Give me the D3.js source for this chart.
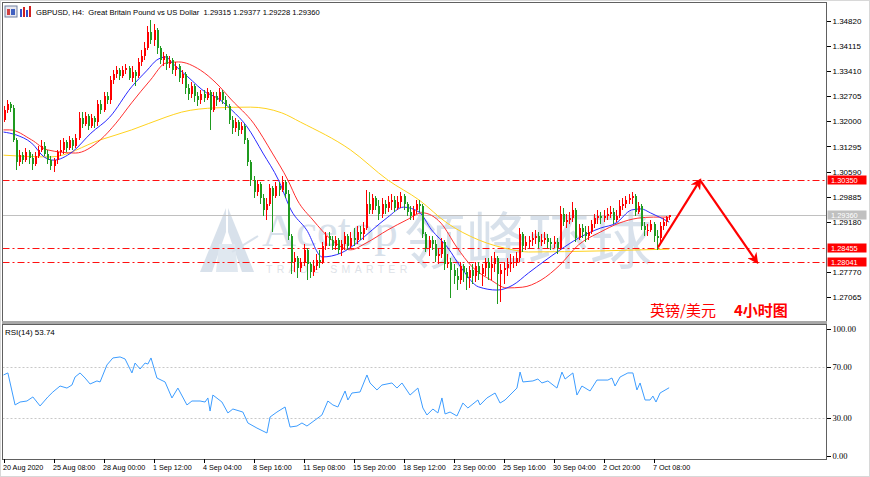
<!DOCTYPE html>
<html lang="en">
<head>
<meta charset="UTF-8">
<title>GBPUSD, H4</title>
<script src="https://d3js.org/d3.v7.min.js"></script>
<style>
  body, html { margin: 0; padding: 0; background: #fff; overflow: hidden; }
  svg { display: block; font-family: 'Liberation Sans', Arial, sans-serif; }
  .ax text { font-size: 8px; fill: #000; }
  .ax line { stroke: #000; shape-rendering: crispEdges; }
  .ax path { display: none; }
  .timeax text { font-size: 7.2px; }
  .rsiax text { font-family: 'Liberation Serif', serif; font-size: 8.5px; }
</style>
</head>
<body>
<svg id="chart" width="870" height="477"></svg>
<script>
// ---- data ----
const firstOpen = 1.3204;
const closes = [
  1.3232,1.3249,1.3238,1.3148,1.3086,1.3105,1.3091,1.3114,1.3097,1.3080,
  1.3103,1.3120,1.3131,1.3108,1.3091,1.3075,1.3091,1.3114,1.3120,1.3142,
  1.3125,1.3148,1.3131,1.3153,1.3209,1.3193,1.3215,1.3187,1.3209,1.3198,
  1.3249,1.3232,1.3271,1.3260,1.3316,1.3333,1.3344,1.3327,1.3344,1.3350,
  1.3322,1.3339,1.3327,1.3367,1.3384,1.3406,1.3451,1.3429,1.3457,1.3406,
  1.3372,1.3384,1.3361,1.3372,1.3344,1.3356,1.3322,1.3333,1.3294,1.3277,
  1.3299,1.3271,1.3260,1.3277,1.3266,1.3282,1.3232,1.3271,1.3260,1.3282,
  1.3260,1.3243,1.3204,1.3181,1.3198,1.3176,1.3187,1.3148,1.3086,1.3035,
  1.3001,1.3024,1.2985,1.2951,1.2968,1.3013,1.2990,1.3018,1.3007,1.3030,
  1.2996,1.2878,1.2805,1.2816,1.2788,1.2805,1.2839,1.2799,1.2777,1.2794,
  1.2810,1.2805,1.2850,1.2878,1.2867,1.2850,1.2867,1.2839,1.2855,1.2878,
  1.2850,1.2872,1.2867,1.2889,1.2883,1.2900,1.2968,1.2951,1.2985,1.2962,
  1.2940,1.2968,1.2957,1.2973,1.2979,1.2957,1.2973,1.2990,1.2968,1.2945,
  1.2934,1.2951,1.2968,1.2962,1.2883,1.2844,1.2867,1.2855,1.2822,1.2827,
  1.2861,1.2799,1.2805,1.2782,1.2765,1.2754,1.2794,1.2777,1.2760,1.2782,
  1.2765,1.2794,1.2771,1.2788,1.2805,1.2788,1.2799,1.2816,1.2771,1.2782,
  1.2788,1.2799,1.2805,1.2805,1.2816,1.2883,1.2850,1.2861,1.2867,1.2872,
  1.2878,1.2861,1.2867,1.2872,1.2861,1.2855,1.2861,1.2844,1.2940,1.2917,
  1.2923,1.2928,1.2951,1.2872,1.2900,1.2889,1.2878,1.2889,1.2912,1.2928,
  1.2934,1.2928,1.2934,1.2940,1.2945,1.2923,1.2934,1.2962,1.2968,1.2979,
  1.2985,1.2990,1.2945,1.2962,1.2906,1.2895,1.2895,1.2912,1.2878,1.2872,
  1.2906,1.2917,1.29315,1.29360
];
const highs = [
  1.3243,1.3260,1.3254,1.3246,1.3153,1.3120,1.3114,1.3125,1.3120,1.3108,
  1.3114,1.3131,1.3148,1.3142,1.3120,1.3103,1.3097,1.3120,1.3148,1.3153,
  1.3148,1.3159,1.3153,1.3164,1.3226,1.3226,1.3226,1.3221,1.3221,1.3215,
  1.3260,1.3260,1.3282,1.3282,1.3327,1.3344,1.3356,1.3350,1.3356,1.3361,
  1.3356,1.3356,1.3344,1.3378,1.3401,1.3423,1.3468,1.3485,1.3474,1.3462,
  1.3412,1.3395,1.3389,1.3384,1.3378,1.3367,1.3361,1.3344,1.3339,1.3305,
  1.3311,1.3305,1.3282,1.3288,1.3288,1.3294,1.3288,1.3282,1.3282,1.3294,
  1.3288,1.3271,1.3249,1.3215,1.3209,1.3204,1.3198,1.3193,1.3153,1.3091,
  1.3046,1.3035,1.3030,1.2996,1.2985,1.3024,1.3018,1.3030,1.3030,1.3046,
  1.3035,1.3007,1.2883,1.2833,1.2822,1.2816,1.2855,1.2844,1.2805,1.2810,
  1.2827,1.2839,1.2861,1.2889,1.2889,1.2878,1.2878,1.2872,1.2867,1.2889,
  1.2883,1.2889,1.2900,1.2906,1.2906,1.2917,1.3007,1.3001,1.2996,1.2990,
  1.2979,1.2985,1.2979,1.2990,1.2996,1.2990,1.2990,1.3001,1.2996,1.2973,
  1.2962,1.2962,1.2979,1.2979,1.2968,1.2889,1.2878,1.2878,1.2867,1.2844,
  1.2872,1.2867,1.2827,1.2816,1.2799,1.2788,1.2805,1.2799,1.2788,1.2794,
  1.2799,1.2805,1.2805,1.2799,1.2816,1.2816,1.2822,1.2833,1.2822,1.2799,
  1.2805,1.2816,1.2827,1.2822,1.2833,1.2900,1.2889,1.2878,1.2878,1.2889,
  1.2895,1.2889,1.2883,1.2889,1.2883,1.2872,1.2878,1.2872,1.2962,1.2957,
  1.2940,1.2945,1.2973,1.2957,1.2912,1.2912,1.2906,1.2906,1.2923,1.2940,
  1.2951,1.2945,1.2951,1.2957,1.2962,1.2957,1.2951,1.2979,1.2985,1.2990,
  1.2996,1.3001,1.2996,1.2973,1.2968,1.2917,1.2912,1.2923,1.2917,1.2895,
  1.2917,1.2928,1.2934,1.29377
];
const lows = [
  1.3198,1.3224,1.3226,1.3142,1.3063,1.3075,1.3080,1.3086,1.3080,1.3063,
  1.3075,1.3097,1.3114,1.3103,1.3080,1.3063,1.3058,1.3080,1.3103,1.3108,
  1.3114,1.3120,1.3120,1.3125,1.3148,1.3181,1.3187,1.3176,1.3181,1.3181,
  1.3187,1.3221,1.3226,1.3249,1.3249,1.3305,1.3322,1.3316,1.3322,1.3333,
  1.3316,1.3311,1.3299,1.3322,1.3356,1.3372,1.3401,1.3417,1.3412,1.3389,
  1.3361,1.3356,1.3344,1.3350,1.3333,1.3327,1.3311,1.3305,1.3277,1.3260,
  1.3266,1.3254,1.3243,1.3249,1.3254,1.3260,1.3176,1.3226,1.3243,1.3254,
  1.3249,1.3232,1.3193,1.3164,1.3170,1.3159,1.3164,1.3136,1.3075,1.3018,
  1.2985,1.2990,1.2968,1.2934,1.2923,1.2962,1.2889,1.2985,1.2990,1.3001,
  1.2985,1.2867,1.2771,1.2777,1.2760,1.2777,1.2794,1.2754,1.2760,1.2765,
  1.2782,1.2788,1.2799,1.2839,1.2850,1.2839,1.2839,1.2827,1.2822,1.2839,
  1.2839,1.2844,1.2850,1.2855,1.2867,1.2867,1.2895,1.2940,1.2940,1.2951,
  1.2923,1.2928,1.2940,1.2945,1.2951,1.2945,1.2951,1.2957,1.2951,1.2934,
  1.2923,1.2923,1.2940,1.2945,1.2872,1.2833,1.2822,1.2839,1.2805,1.2799,
  1.2816,1.2782,1.2788,1.2704,1.2743,1.2726,1.2743,1.2749,1.2726,1.2732,
  1.2743,1.2749,1.2754,1.2737,1.2765,1.2754,1.2754,1.2777,1.2687,1.2692,
  1.2743,1.2765,1.2777,1.2788,1.2794,1.2805,1.2833,1.2839,1.2844,1.2850,
  1.2855,1.2844,1.2850,1.2855,1.2844,1.2839,1.2844,1.2827,1.2839,1.2906,
  1.2900,1.2912,1.2917,1.2861,1.2867,1.2872,1.2861,1.2867,1.2883,1.2900,
  1.2912,1.2912,1.2917,1.2923,1.2928,1.2912,1.2917,1.2928,1.2951,1.2957,
  1.2968,1.2968,1.2934,1.2940,1.2895,1.2878,1.2878,1.2889,1.2861,1.2839,
  1.2861,1.2895,1.2906,1.29228
];

// moving averages: [bar, price]
const maFast = [[0,1.3170],[4,1.3162],[9,1.3139],[13,1.3100],[16,1.3091],[22,1.3114],[28,1.3167],[34,1.3212],[41,1.3297],[46,1.3344],[49,1.3372],[52,1.3381],[54,1.3364],[59,1.3325],[65,1.3280],[68,1.3268],[73,1.3232],[78,1.3184],[83,1.3111],[88,1.3035],[92,1.2951],[97,1.2895],[102,1.2819],[108,1.2830],[113,1.2858],[118,1.2895],[123,1.2931],[128,1.2959],[133,1.2945],[137,1.2895],[142,1.2847],[147,1.2782],[152,1.2735],[158,1.2726],[163,1.2740],[168,1.2774],[178,1.2838],[184,1.2872],[191,1.2900],[196,1.2914],[201,1.2951],[204,1.2954],[207,1.2943],[213,1.2917]];
const maMid = [[0,1.3176],[2,1.3176],[9,1.3148],[14,1.3120],[23,1.3111],[31,1.3148],[36,1.3195],[41,1.3252],[47,1.3316],[52,1.3364],[56,1.3367],[63,1.3344],[68,1.3308],[73,1.3260],[80,1.3195],[86,1.3111],[91,1.3035],[94,1.2979],[99,1.2923],[105,1.2867],[111,1.2839],[116,1.2858],[123,1.2895],[129,1.2923],[134,1.2943],[140,1.2914],[145,1.2847],[150,1.2791],[156,1.2754],[161,1.2732],[166,1.2734],[172,1.2754],[178,1.2796],[184,1.2853],[191,1.2889],[197,1.2914],[203,1.2928],[208,1.2931],[213,1.2931]];
const maSlow = [[0,1.3105],[15,1.3100],[31,1.3148],[41,1.3176],[52,1.3212],[57,1.3226],[68,1.3238],[79,1.3240],[89,1.3224],[95,1.3198],[111,1.3120],[123,1.3035],[133,1.2979],[142,1.2914],[152,1.2867],[163,1.2839],[168,1.2833],[191,1.2836],[213,1.2841]];

// RSI(14): [bar, value]
const rsi = [[0,63.8],[1.4,65.4],[3.7,40.2],[5.3,42.5],[7.5,43.3],[9.4,46.5],[11.7,39.4],[14.2,46.5],[15.8,50.4],[18.1,55.1],[20.3,53.5],[21.9,55.9],[22.9,62.2],[24.5,65.4],[26.1,61.4],[27.7,56.7],[29.9,59.1],[30.9,58.3],[33.1,71.7],[35,77.2],[37.3,78],[38.9,76.4],[41.1,65.4],[42.1,73.2],[43.7,68.5],[45.3,73.2],[46.2,72.4],[47.2,77.2],[49.1,61.4],[51.7,58.3],[53.9,45.7],[55.8,53.5],[58.7,40.2],[60.3,43.3],[62.9,43.3],[64.5,42.5],[65.4,45.7],[66.1,35.4],[67,48],[69.9,42.5],[71.8,33.9],[73.4,37],[76.6,34.6],[78.2,26],[81.1,22],[84.3,18.1],[85.3,30.7],[87.5,34.6],[90.1,38.6],[91.7,22.8],[93.9,23.6],[95.5,26],[97.1,23.6],[99.7,28.3],[101.9,32.3],[103.8,43.3],[105.4,40.2],[107,38.6],[109.3,51.2],[110.2,44.1],[111.5,49.6],[114.1,50.4],[116.3,63.8],[117.3,57.5],[119.5,52],[121.1,55.9],[124.3,57.5],[125.9,53.5],[127.5,57.5],[130.1,48],[132.6,53.5],[134.2,37.8],[135.5,32.3],[137.4,37],[139,33.9],[140.3,45.7],[141.3,33.1],[142.9,34.6],[145.1,31.5],[147,41.7],[148.6,37.8],[151.8,44.1],[152.5,40.2],[154.7,45.7],[157.3,49.6],[158.9,41.7],[160.5,44.1],[164.3,53.5],[165.3,66.1],[166.2,58.3],[169.4,59.1],[171,60.6],[172.3,57.5],[174.2,59.1],[177.1,53.5],[178.7,66.1],[179.7,60.6],[182.2,65.4],[183.5,48],[185.1,55.1],[187.7,51.2],[189.9,59.8],[193.4,59.8],[194.7,61.4],[195.7,55.1],[197.3,62.2],[199.8,65.4],[201.4,65.4],[202.7,52],[203.7,57.5],[205.3,44.1],[206.9,44.1],[207.8,47.2],[208.8,42.5],[210.1,49.6],[213,53.74]];

const priceTicks = [1.34820,1.34115,1.33410,1.32705,1.32000,1.31295,1.30590,1.29885,1.29180,1.27770,1.27065];
const levels = [1.30350, 1.28455, 1.28041];
const lastPrice = 1.29360;
const rsiTicks = [100, 70, 30, 0];
const rsiLevels = [70, 30];
const timeBars = [0,16,32,48,64,80,96,112,128,144,160,176,192,208];
const timeLabels = ["20 Aug 2020","25 Aug 08:00","28 Aug 00:00","1 Sep 12:00","4 Sep 04:00","8 Sep 16:00","11 Sep 08:00","15 Sep 20:00","18 Sep 12:00","23 Sep 00:00","25 Sep 16:00","30 Sep 04:00","2 Oct 20:00","7 Oct 08:00"];
// forecast arrow: [bar, price]
const arrowPath = [[209.4, 1.28455], [222.9, 1.30350], [241.1, 1.28041]];

// ---- layout ----
const svg = d3.select("#chart");
const L = 2.5, R = 826.5, T = 2.5, MB = 321, RT = 324, RB = 459;

const x = d3.scaleLinear().domain([0, 208]).range([3.5, 653.5]);
const y = d3.scaleLinear().domain([1.27065, 1.34820]).range([297, 21]);
const yr = d3.scaleLinear().domain([0, 100]).range([456, 329]);

const UP = "#ff0000", DOWN = "#1f9a1f";

svg.append("rect").attr("width", 870).attr("height", 477).attr("fill", "#fff");

const defs = svg.append("defs");
defs.append("clipPath").attr("id", "clipMain").append("rect")
  .attr("x", L).attr("y", T).attr("width", R - L).attr("height", MB - T);
defs.append("clipPath").attr("id", "clipRsi").append("rect")
  .attr("x", L).attr("y", RT).attr("width", R - L).attr("height", RB - RT);
defs.append("marker").attr("id", "arrowHead")
  .attr("viewBox", "0 0 10 10").attr("refX", 8).attr("refY", 5)
  .attr("markerWidth", 5).attr("markerHeight", 5).attr("orient", "auto")
  .attr("markerUnits", "strokeWidth")
  .append("path").attr("d", "M0,0 L10,5 L0,10 L3,5 Z").attr("fill", "#ff0000");

// watermark
const wm = svg.append("g").attr("opacity", 0.55);
wm.append("path").attr("d", "M226,208 L200,272 L212,272 L226,232 Z").attr("fill", "#b9cadb");
wm.append("path").attr("d", "M228,208 L254,272 L242,272 L228,232 Z").attr("fill", "#b9cadb");
wm.append("path").attr("d", "M219,244 L235,244 L238,272 L216,272 Z").attr("fill", "#c8d6e4");
wm.append("line").attr("x1", 232).attr("y1", 252).attr("x2", 258).attr("y2", 236)
  .attr("stroke", "#b9cadb").attr("stroke-width", 2);
wm.append("text").attr("x", 262).attr("y", 246)
  .style("font-family", "'Liberation Serif', serif").style("font-size", "47px")
  .attr("fill", "#b9cadb").text("Acetop");
wm.append("text").attr("x", 266).attr("y", 273)
  .style("font-size", "10.5px").style("letter-spacing", "4.3px")
  .attr("fill", "#c3ccd6").text("TRADE SMARTER");
wm.append("text").attr("x", 404).attr("y", 264)
  .style("font-family", "'Noto Sans CJK SC', sans-serif").style("font-size", "62px")
  .attr("fill", "#b9cadb").text("领峰环球");

// main panel
const main = svg.append("g").attr("clip-path", "url(#clipMain)");

main.append("line").attr("x1", L).attr("x2", R)
  .attr("y1", Math.round(y(lastPrice)) + 0.5).attr("y2", Math.round(y(lastPrice)) + 0.5)
  .attr("stroke", "#c0c0c0");

main.selectAll(".lvl").data(levels).enter().append("line")
  .attr("x1", L).attr("x2", R)
  .attr("y1", d => Math.round(y(d)) + 0.5).attr("y2", d => Math.round(y(d)) + 0.5)
  .attr("stroke", "#ff1010").attr("stroke-dasharray", "7,3,2,3");

const maLine = d3.line().x(d => x(d[0])).y(d => y(d[1])).curve(d3.curveMonotoneX);
[[maSlow, "#ffd21f"], [maMid, "#ff3030"], [maFast, "#2a2aff"]].forEach(([data, col]) => {
  main.append("path").datum(data).attr("d", maLine)
    .attr("fill", "none").attr("stroke", col).attr("stroke-width", 1);
});

const bars = closes.map((c, i) => ({
  i, o: i === 0 ? firstOpen : closes[i - 1], h: highs[i], l: lows[i], c
}));
const cg = main.append("g").style("shape-rendering", "crispEdges");
cg.selectAll(".wick").data(bars).enter().append("line")
  .attr("x1", d => Math.round(x(d.i)) + 0.5).attr("x2", d => Math.round(x(d.i)) + 0.5)
  .attr("y1", d => y(d.h)).attr("y2", d => y(d.l))
  .attr("stroke", d => d.c >= d.o ? UP : DOWN);
cg.selectAll(".body").data(bars).enter().append("rect")
  .attr("x", d => Math.round(x(d.i)) - 0.5)
  .attr("width", 2)
  .attr("y", d => Math.min(y(d.o), y(d.c)))
  .attr("height", d => Math.max(1, Math.abs(y(d.o) - y(d.c))))
  .attr("fill", d => d.c >= d.o ? UP : DOWN);

// forecast arrows
for (let k = 0; k < arrowPath.length - 1; k++) {
  const a = arrowPath[k], b = arrowPath[k + 1];
  svg.append("line")
    .attr("x1", x(a[0])).attr("y1", y(a[1])).attr("x2", x(b[0])).attr("y2", y(b[1]))
    .attr("stroke", "#ff0000").attr("stroke-width", 2.2)
    .attr("marker-end", "url(#arrowHead)");
}

svg.append("text").attr("x", 650).attr("y", 316)
  .style("font-family", "'Noto Sans CJK SC', sans-serif").style("font-size", "15px")
  .attr("fill", "#ff0000").text("英镑/美元");
svg.append("text").attr("x", 734).attr("y", 316)
  .style("font-family", "'Noto Sans CJK SC', sans-serif").style("font-size", "15px")
  .style("font-weight", "bold").attr("fill", "#ff0000").text("4小时图");

// RSI panel
const rp = svg.append("g").attr("clip-path", "url(#clipRsi)");
rp.selectAll(".rl").data(rsiLevels).enter().append("line")
  .attr("x1", L).attr("x2", R)
  .attr("y1", d => Math.round(yr(d)) + 0.5).attr("y2", d => Math.round(yr(d)) + 0.5)
  .attr("stroke", "#c8c8c8").attr("stroke-dasharray", "2,2");
rp.append("path").datum(rsi)
  .attr("d", d3.line().x(d => x(d[0])).y(d => yr(d[1])))
  .attr("fill", "none").attr("stroke", "#3c9cff").attr("stroke-width", 1);
svg.append("text").attr("x", 5).attr("y", 335).style("font-size", "8px")
  .text("RSI(14) " + rsi[rsi.length - 1][1].toFixed(2));

// frames
const frame = svg.append("g").attr("fill", "none").style("shape-rendering", "crispEdges");
frame.append("rect").attr("x", 0.5).attr("y", 0.5).attr("width", 869).attr("height", 476).attr("stroke", "#d8d8d8");
frame.append("rect").attr("x", L).attr("y", T).attr("width", R - L).attr("height", MB - T).attr("stroke", "#606060");
frame.append("rect").attr("x", L).attr("y", RT).attr("width", R - L).attr("height", RB - RT).attr("stroke", "#606060");
svg.append("rect").attr("x", 2).attr("y", MB).attr("width", R - 1.5).attr("height", RT - MB).attr("fill", "#a8a8a8");

// price axis
svg.append("g").attr("class", "ax").attr("transform", `translate(${R},0)`)
  .call(d3.axisRight(y).tickValues(priceTicks).tickFormat(d3.format(".5f")).tickSize(4).tickPadding(2));

// level tags
const tags = levels.map(v => ({ v, fill: "#ff0000" })).concat([{ v: lastPrice, fill: "#c0c0c0" }]);
const tg = svg.selectAll(".tag").data(tags).enter().append("g")
  .attr("transform", d => `translate(${R + 1},${Math.round(y(d.v))})`);
tg.append("rect").attr("x", 0).attr("y", -4.5).attr("width", 39).attr("height", 9).attr("fill", d => d.fill);
tg.append("text").attr("x", 3.5).attr("y", 2.5).style("font-size", "7.4px").attr("fill", "#fff")
  .text(d => d3.format(".5f")(d.v));

// RSI axis
svg.append("g").attr("class", "ax rsiax").attr("transform", `translate(${R},0)`)
  .call(d3.axisRight(yr).tickValues(rsiTicks).tickFormat(d3.format(".2f")).tickSize(4).tickPadding(2));

// time axis
const tx = svg.append("g").attr("class", "ax timeax").attr("transform", `translate(0,${RB})`)
  .call(d3.axisBottom(x).tickValues(timeBars).tickFormat((d, i) => timeLabels[i]).tickSize(4).tickPadding(2));
tx.selectAll("line").attr("transform", "translate(0.5,0)");
tx.selectAll("text").attr("text-anchor", "start").attr("dx", -1);

// title bar
svg.append("rect").attr("x", 5).attr("y", 6).attr("width", 12).attr("height", 11)
  .attr("fill", "#e8e8f0").attr("stroke", "#7080a0");
svg.append("rect").attr("x", 7).attr("y", 9).attr("width", 3).attr("height", 6).attr("fill", "#d04040");
svg.append("rect").attr("x", 11).attr("y", 9).attr("width", 4).attr("height", 6).attr("fill", "#4060c0");
[[20,9,2,8,"#3050d0"],[23,7,2,10,"#d02020"],[26,10,2,7,"#3050d0"],[29,6,2,11,"#d02020"]].forEach(b => {
  svg.append("rect").attr("x", b[0]).attr("y", b[1]).attr("width", b[2]).attr("height", b[3]).attr("fill", b[4]);
});
svg.append("text").attr("x", 36).attr("y", 15).style("font-size", "7.6px").style("white-space", "pre")
  .text("GBPUSD, H4:  Great Britain Pound vs US Dollar  1.29315 1.29377 1.29228 1.29360");
</script>
</body>
</html>
